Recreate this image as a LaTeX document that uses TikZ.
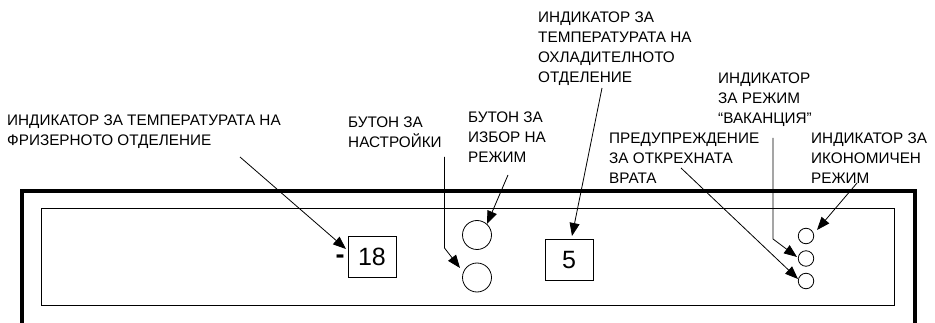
\documentclass[tikz,border=0pt]{standalone}
\usepackage{fontspec}
\setmainfont{Liberation Sans}
\usetikzlibrary{arrows.meta}
\begin{document}
\begin{tikzpicture}[x=1pt,y=-1pt,
  lbl/.style={anchor=north west, inner sep=0pt, align=left, font=\fontsize{15.3}{20}\selectfont},
  arr/.style={line width=0.8pt, -{Triangle[length=13pt,width=10pt]}},
  disp/.style={draw, line width=0.8pt, rectangle, minimum width=48pt, minimum height=41pt, inner sep=0pt, font=\fontsize{25}{25}\selectfont},
  button/.style={draw, line width=0.8pt, circle, minimum size=29pt, inner sep=0pt},
  led/.style={draw, line width=0.8pt, circle, minimum size=15.5pt, inner sep=0pt}
]
\useasboundingbox (0,0) rectangle (935,323);
% frame
\draw[line width=3.5pt] (22,323) -- (22,191) -- (915,191) -- (915,323);
\draw[line width=0.9pt] (41,208) rectangle (894,305);

% displays and buttons
\node[disp] (d18) at (372,256.5) {18};
\node[anchor=base, inner sep=0pt, font=\fontsize{27}{27}\selectfont\bfseries] (minus) at (340,264) {-};
\node[disp] (d5) at (569,260) {5};
\node[button] (bmode) at (477,235) {};
\node[button] (bset) at (477,277.5) {};
\node[led] (leco) at (806,236) {};
\node[led] (lvac) at (806,258.5) {};
\node[led] (ldoor) at (806,281) {};

% labels
\node[lbl] (tfreezer) at (7,115) {ИНДИКАТОР ЗА ТЕМПЕРАТУРАТА НА\\ФРИЗЕРНОТО ОТДЕЛЕНИЕ};
\node[lbl] (tset) at (348,117) {БУТОН ЗА\\НАСТРОЙКИ};
\node[lbl] (tmode) at (468,112) {БУТОН ЗА\\ИЗБОР НА\\РЕЖИМ};
\node[lbl] (tfridge) at (538,12) {ИНДИКАТОР ЗА\\ТЕМПЕРАТУРАТА НА\\ОХЛАДИТЕЛНОТО\\ОТДЕЛЕНИЕ};
\node[lbl] (tvac) at (718,73) {ИНДИКАТОР\\ЗА РЕЖИМ\\“ВАКАНЦИЯ”};
\node[lbl] (tdoor) at (609,133) {ПРЕДУПРЕЖДЕНИЕ\\ЗА ОТКРЕХНАТА\\ВРАТА};
\node[lbl] (teco) at (811,133) {ИНДИКАТОР ЗА\\ИКОНОМИЧЕН\\РЕЖИМ};

% arrow ends
\coordinate (sfreezer) at (240,157);
\coordinate (efreezer) at (346,249);
\coordinate (sset) at (444.5,157);
\coordinate (kset) at (444.5,248);
\coordinate (eset) at (460,268);
\coordinate (smode) at (508,175);
\coordinate (emode) at (487,224);
\coordinate (sfridge) at (602,88);
\coordinate (efridge) at (572,236);
\coordinate (svac) at (773,138);
\coordinate (kvac) at (773,239);
\coordinate (evac) at (797,257);
\coordinate (sdoor) at (681,168);
\coordinate (edoor) at (798,279);
\coordinate (seco) at (857,183);
\coordinate (eeco) at (817,230);

\draw[arr] (sfreezer) -- (efreezer);
\draw[arr] (sset) -- (kset) -- (eset);
\draw[arr] (smode) -- (emode);
\draw[arr] (sfridge) -- (efridge);
\draw[arr] (svac) -- (kvac) -- (evac);
\draw[arr] (sdoor) -- (edoor);
\draw[arr] (seco) -- (eeco);
\end{tikzpicture}
\end{document}
